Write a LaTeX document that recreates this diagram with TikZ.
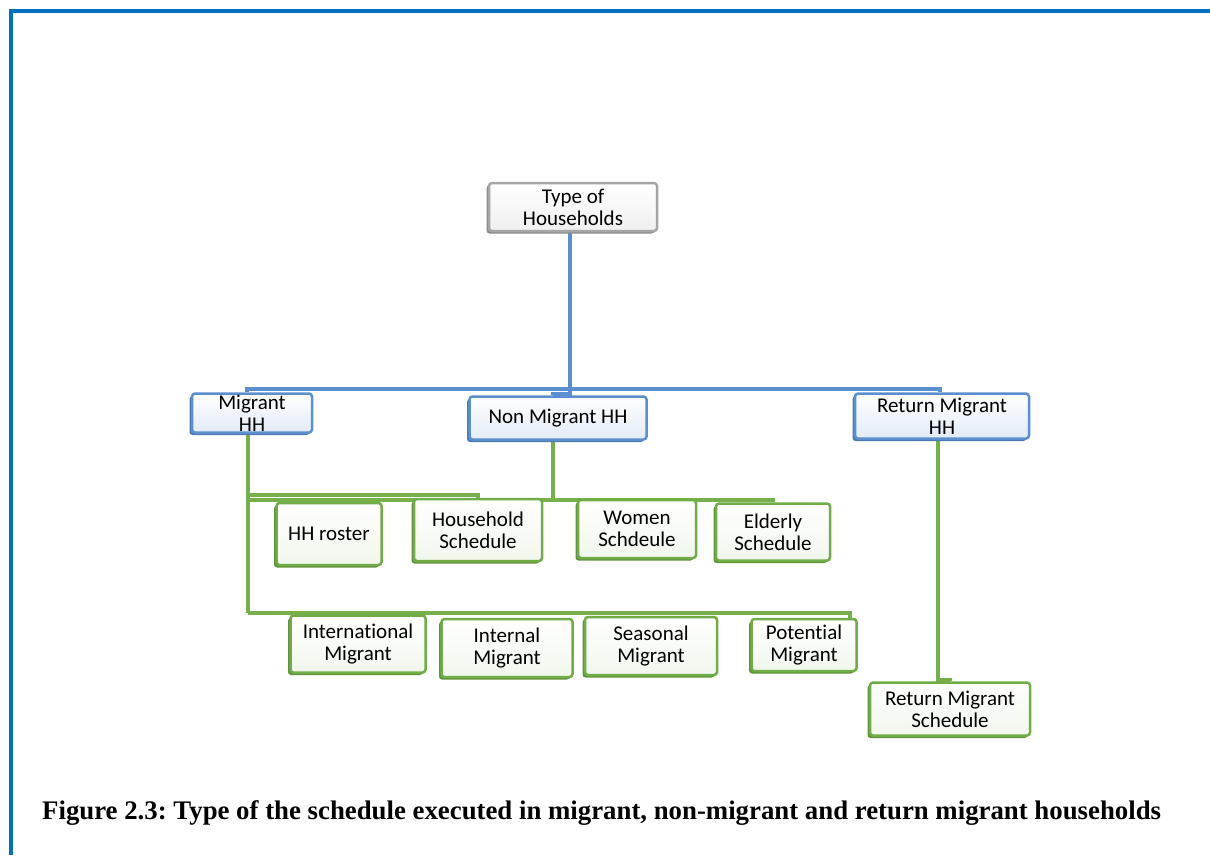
\documentclass[tikz,border=0pt]{standalone}
\usepackage{fontspec}
\setmainfont[Ligatures=NoCommon]{Carlito}
\newfontfamily\captionfont{Liberation Serif}
\usetikzlibrary{shadows,backgrounds}
\definecolor{frameblue}{HTML}{0070C0}
\definecolor{linkblue}{HTML}{5B8FD0}
\definecolor{linkgreen}{HTML}{77B04B}
\definecolor{boxgreen}{HTML}{70AD47}
\colorlet{fillgreen}{boxgreen!10!white}
\colorlet{fillblue}{linkblue!18!white}
\colorlet{fillgray}{black!6!white}

\begin{document}
\begin{tikzpicture}[x=1pt,y=-1pt,
    basebox/.style={rounded corners=3pt,line width=2.5pt,align=center,inner sep=0pt,
      font=\fontsize{21}{22}\selectfont},
    graybox/.style={basebox,draw=black!35,top color=white,bottom color=fillgray,
      general shadow={shadow xshift=-2.5pt,shadow yshift=-2.5pt,fill=black!45}},
    bluebox/.style={basebox,draw=linkblue,top color=white,bottom color=fillblue,
      general shadow={shadow xshift=-2.5pt,shadow yshift=-2.5pt,fill=linkblue!85!black}},
    greenbox/.style={basebox,draw=boxgreen,top color=white,bottom color=fillgreen,
      general shadow={shadow xshift=-2.5pt,shadow yshift=-2.5pt,fill=boxgreen!85!black}},
    blueline/.style={draw=linkblue,line width=3.5pt},
    greenline/.style={draw=linkgreen,line width=3.5pt}]

      \useasboundingbox (0,0) rectangle (1210,855);
      \draw [frameblue,line width=4.5pt] (11,855) -- (11,11) -- (1210,11);

      % top level
      \node [graybox,minimum width=168pt,minimum height=48pt] (types) at (573,207) {Type of\\Households};

      % household types
      \node [bluebox,minimum width=120pt,minimum height=39pt] (mig) at (252,413) {Migrant\\HH};
      \node [bluebox,minimum width=177pt,minimum height=43pt] (non) at (558,418) {Non Migrant HH};
      \node [bluebox,minimum width=174pt,minimum height=45pt] (ret) at (942,416) {Return Migrant\\HH};

      % schedules
      \node [greenbox,minimum width=105pt,minimum height=62pt] (roster) at (329,534) {HH roster};
      \node [greenbox,minimum width=128pt,minimum height=62pt] (hhsched) at (478,530) {Household\\Schedule};
      \node [greenbox,minimum width=118pt,minimum height=58pt] (women) at (637,529) {Women\\Schdeule};
      \node [greenbox,minimum width=114pt,minimum height=57pt] (elderly) at (773,532) {Elderly\\Schedule};

      \node [greenbox,minimum width=135pt,minimum height=57pt] (intl) at (358,644) {International\\Migrant};
      \node [greenbox,minimum width=131pt,minimum height=58pt] (internal) at (507,648) {Internal\\Migrant};
      \node [greenbox,minimum width=132pt,minimum height=58pt] (seasonal) at (651,646) {Seasonal\\Migrant};
      \node [greenbox,minimum width=105pt,minimum height=52pt] (potential) at (804,645) {Potential\\Migrant};

      \node [greenbox,minimum width=160pt,minimum height=53pt] (retsched) at (950,709) {Return Migrant\\Schedule};

      \begin{scope}[on background layer]
      % blue links
      \coordinate (topbus) at (570,389);
      \draw [blueline] (types.south -| topbus) -- (topbus);
      \draw [blueline] ([xshift=-5pt]mig.north) |- (topbus) -| ([xshift=-2pt]ret.north);
      \draw [blueline] (topbus) -- ++(0,5) -| ([xshift=-5pt]non.north);

      % green links
      \coordinate (rowa) at (248,495);
      \coordinate (rowb) at (248,500);
      \coordinate (rowc) at (248,613);
      \draw [greenline] (mig.south -| rowa) -- (rowc);
      \draw [greenline] (rowa) -| (hhsched.north);
      \draw [greenline] (non.south -| 553,0) |- (rowb);
      \draw [greenline] (rowb) -| (elderly.north);
      \draw [greenline] (rowc) -| ([xshift=46pt]potential.north);
      \coordinate (retbend) at (938,680);
      \draw [greenline] (ret.south -| retbend) -- (retbend) -| (retsched.north);
      \end{scope}

      % caption
      \node [anchor=base west,inner sep=0pt,font=\captionfont\bfseries\fontsize{26.8}{28}\selectfont\frenchspacing]
        (caption) at (42,819) {Figure 2.3: Type of the schedule executed in migrant, non-migrant and return migrant households};

\end{tikzpicture}
\end{document}
